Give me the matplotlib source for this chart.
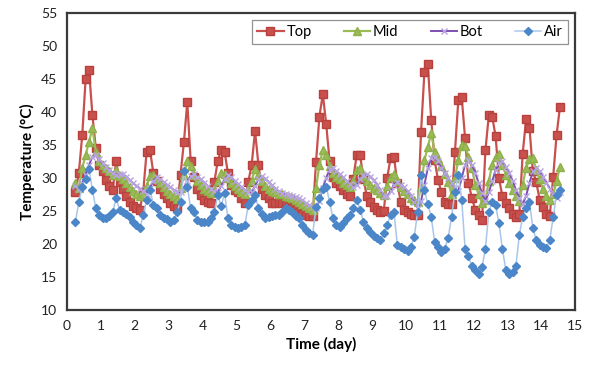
import numpy as np
import matplotlib
matplotlib.use("Agg")
import matplotlib.pyplot as plt

plt.rcParams['font.family'] = ['Lato', 'DejaVu Sans']

# sampling times (day), every 0.1 day from 0.25 to 14.55
time_day = np.round(np.arange(0.25, 14.6, 0.1), 2)

# temperatures, one row per day
top = [
    27.9, 30.8, 36.5, 45.0, 46.4, 39.5, 34.5, 32.0,
    31.0, 29.7, 28.8, 28.2, 32.6, 29.4, 28.4, 27.3, 26.4, 25.8,
    25.4, 25.2, 27.9, 34.0, 34.2, 30.7, 29.5, 28.4, 27.6, 27.0,
    26.2, 25.8, 25.4, 30.5, 35.4, 41.5, 32.6, 30.2, 28.4, 27.4,
    26.7, 26.4, 26.2, 29.4, 32.6, 34.2, 34.0, 30.7, 28.9, 28.2,
    27.9, 26.9, 26.2, 29.4, 32.0, 37.1, 32.0, 28.4, 27.4, 26.9,
    26.2, 26.2, 26.4, 26.2, 26.0, 25.7, 25.4, 25.1, 24.8, 24.6,
    24.4, 24.3, 24.2, 32.4, 39.3, 42.7, 38.2, 32.5, 30.2, 29.2,
    28.8, 28.2, 27.6, 27.2, 29.9, 33.5, 33.5, 29.9, 27.2, 26.4,
    25.6, 25.2, 24.8, 25.0, 30.0, 33.0, 33.2, 29.2, 26.4, 25.2,
    24.8, 24.6, 24.4, 24.4, 37.0, 46.1, 47.2, 38.8, 32.7, 29.7,
    27.9, 26.3, 26.1, 26.0, 34.0, 41.8, 42.2, 36.0, 29.2, 27.0,
    25.2, 24.4, 23.6, 34.2, 39.5, 39.3, 36.3, 30.0, 27.2, 26.2,
    25.4, 24.6, 24.1, 24.5, 33.7, 38.9, 37.6, 31.0, 29.4, 26.7,
    25.6, 24.6, 24.3, 30.2, 36.5, 40.8,
]

mid = [
    29.2, 28.5, 31.5, 33.5, 35.5, 37.5, 34.0, 32.5,
    32.0, 31.5, 31.0, 30.5, 31.2, 30.3, 29.8, 29.2, 28.6, 28.0,
    27.6, 27.3, 27.5, 28.8, 30.3, 30.5, 29.8, 29.2, 28.6, 28.0,
    27.6, 27.2, 26.8, 28.5, 30.5, 32.5, 31.8, 30.5, 29.6, 28.9,
    28.4, 28.0, 27.7, 28.3, 29.5, 30.8, 30.6, 30.0, 29.3, 28.8,
    28.3, 27.8, 27.5, 28.3, 29.6, 31.3, 30.5, 29.5, 28.8, 28.3,
    28.0, 27.8, 27.6, 27.5, 27.3, 27.1, 26.9, 26.7, 26.4, 26.1,
    25.8, 25.5, 25.2, 28.5, 32.0, 34.2, 33.5, 31.8, 30.8, 30.2,
    29.8, 29.3, 28.9, 28.6, 29.5, 31.2, 31.5, 30.3, 29.5, 29.0,
    28.5, 28.1, 27.7, 27.4, 28.8, 30.2, 30.6, 29.5, 28.6, 28.0,
    27.5, 27.0, 26.6, 26.3, 28.7, 32.7, 34.7, 36.8, 34.0, 32.8,
    31.8, 30.6, 29.4, 27.5, 30.0, 32.7, 35.0, 34.8, 33.2, 31.5,
    29.0, 27.5, 26.2, 26.7, 29.5, 32.0, 33.2, 33.7, 32.0, 30.5,
    29.3, 28.2, 27.2, 26.5, 29.0, 31.5, 32.8, 33.0, 31.2, 29.8,
    28.3, 27.3, 26.6, 27.5, 29.5, 31.7,
]

bot = [
    28.8, 28.3, 29.2, 30.5, 32.0, 33.2, 33.5, 32.8,
    32.2, 31.7, 31.2, 30.8, 30.5, 30.6, 30.6, 30.2, 29.7, 29.2,
    28.8, 28.4, 28.0, 27.6, 28.5, 29.6, 30.1, 29.8, 29.4, 29.0,
    28.6, 28.2, 27.9, 27.8, 28.5, 29.5, 30.3, 30.6, 30.2, 29.8,
    29.3, 28.8, 28.4, 28.0, 27.8, 28.8, 29.8, 30.4, 30.1, 29.6,
    29.1, 28.6, 28.2, 27.8, 27.8, 28.8, 29.8, 30.3, 29.9, 29.4,
    28.9, 28.4, 28.0, 27.7, 27.5, 27.4, 27.3, 27.1, 26.9, 26.6,
    26.2, 25.9, 25.6, 25.4, 26.5, 28.5, 30.0, 31.3, 31.5, 31.0,
    30.6, 30.1, 29.6, 29.1, 28.7, 29.0, 29.8, 30.4, 30.6, 30.2,
    29.7, 29.0, 28.2, 27.2, 27.2, 28.0, 29.0, 29.4, 29.0, 28.6,
    28.0, 27.2, 26.4, 25.5, 26.5, 29.0, 31.5, 33.0, 33.2, 32.5,
    31.5, 30.8, 30.0, 29.3, 28.5, 28.0, 30.0, 32.0, 32.7, 32.0,
    30.8, 29.2, 27.7, 26.5, 27.8, 29.5, 31.2, 32.2, 32.5, 31.7,
    30.8, 29.6, 28.2, 27.0, 26.0, 27.3, 29.2, 31.0, 31.5, 31.0,
    30.2, 29.3, 28.4, 27.5, 26.9, 27.8,
]

air = [
    23.4, 26.4, 28.7, 29.8, 31.3, 28.2, 25.4, 24.4,
    24.0, 23.9, 24.2, 24.9, 26.9, 25.2, 24.9, 24.5, 24.1, 23.4,
    22.9, 22.4, 24.4, 26.7, 28.2, 25.9, 25.4, 24.4, 23.9, 23.8,
    23.4, 23.6, 24.9, 26.4, 31.0, 28.7, 25.4, 24.8, 23.6, 23.4,
    23.4, 23.4, 23.9, 24.9, 27.4, 25.7, 27.7, 23.9, 22.9, 22.6,
    22.4, 22.6, 22.9, 25.9, 26.7, 27.4, 25.4, 24.5, 23.9, 24.1,
    24.2, 24.4, 24.4, 24.9, 25.4, 25.2, 24.9, 24.3, 23.9, 22.9,
    22.1, 21.7, 21.4, 25.6, 27.0, 28.4, 28.7, 26.4, 23.9, 22.8,
    22.6, 23.1, 23.9, 24.4, 25.4, 26.7, 25.2, 23.4, 22.4, 21.8,
    21.2, 20.9, 20.6, 21.6, 22.9, 24.4, 24.9, 19.8, 19.6, 19.2,
    18.9, 19.6, 21.1, 24.9, 30.4, 28.2, 26.0, 24.1, 20.3, 19.6,
    18.8, 19.3, 20.9, 24.1, 27.9, 30.5, 26.7, 19.3, 18.1, 16.6,
    16.1, 15.4, 16.5, 19.3, 24.9, 26.4, 25.9, 23.1, 19.3, 16.1,
    15.4, 15.8, 16.6, 21.4, 24.1, 25.4, 26.4, 22.4, 20.6, 19.8,
    19.6, 19.4, 20.6, 24.1, 27.4, 28.2,
]

x_ticks = list(range(0, 16))
y_ticks = list(range(10, 56, 5))

fig = plt.figure(figsize=(5.93, 3.69), dpi=100)
ax = fig.add_axes([0.113, 0.160, 0.857, 0.805])

ax.plot(time_day, top, color='#C8504D', lw=1.6, marker='s', ms=5.5,
        mfc='#C8504D', mec='#B8403D', label='Top')
ax.plot(time_day, mid, color='#9BBB59', lw=1.6, marker='^', ms=6,
        mfc='#9BBB59', mec='#8DB048', label='Mid')
ax.plot(time_day, bot, color='#7D4FB3', lw=1.4, marker='x', ms=5,
        mec='#B8A5DF', mew=1.0, label='Bot')
ax.plot(time_day, air, color='#A9C6EA', lw=1.1, marker='D', ms=4,
        mfc='#4A86C8', mec='#4A86C8', label='Air')

ax.set_xlim(0, 15)
ax.set_ylim(10, 55)
ax.set_xticks(x_ticks)
ax.set_yticks(y_ticks)
ax.tick_params(length=0, labelsize=10, pad=7, colors='#222222')

for s in ax.spines.values():
    s.set_color('#3a3a3a')
    s.set_linewidth(1.6)

ax.set_xlabel('Time (day)', fontsize=11, fontweight='bold', labelpad=4)
ax.set_ylabel('Temperature (°C)', fontsize=11, fontweight='bold', labelpad=4)

leg = ax.legend(loc='upper right', bbox_to_anchor=(0.986, 0.976), ncol=4,
                fancybox=False, edgecolor='#777777', fontsize=10.5,
                borderaxespad=0, handlelength=1.8, handletextpad=0.2,
                columnspacing=2.2, borderpad=0.35)
leg.get_frame().set_linewidth(0.9)

fig.savefig('out.png', dpi=100)
